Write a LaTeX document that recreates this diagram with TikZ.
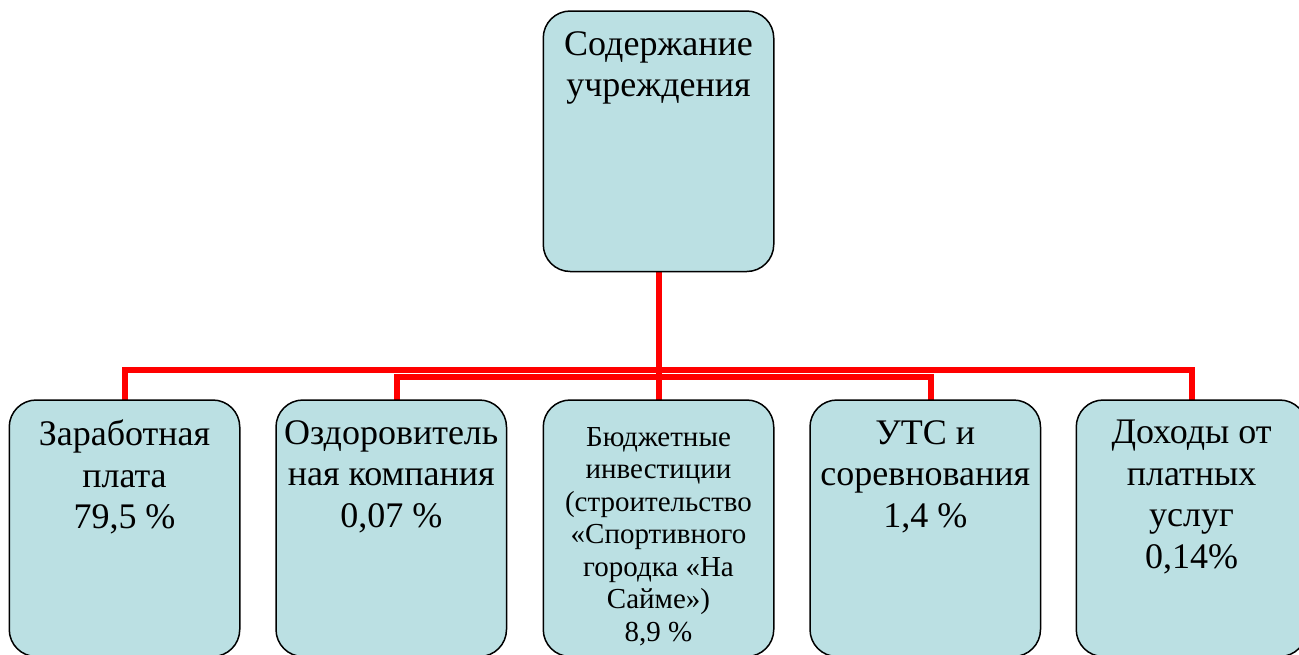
\documentclass[tikz,border=0pt]{standalone}
\usepackage{fontspec}
\setmainfont{Liberation Serif}
\definecolor{boxfill}{HTML}{BBE0E3}
\definecolor{linkred}{HTML}{FF0000}
\begin{document}
\begin{tikzpicture}[x=1pt,y=-1pt,
  box/.style={draw=black, line width=1.5pt, fill=boxfill, rounded corners=27pt,
    minimum width=229pt, minimum height=255pt, inner sep=0pt, anchor=north},
  topbox/.style={box, minimum height=259pt},
  txt/.style={anchor=north, inner sep=0pt, align=center, font=\fontsize{36pt}{41.5pt}\selectfont},
  smalltxt/.style={txt, font=\fontsize{29pt}{32.5pt}\selectfont},
  link/.style={draw=linkred, line width=6pt}]
\useasboundingbox (0,0) rectangle (1299,654);
\clip (0,0) rectangle (1299,654);
% box frames (positions)
\node[topbox, draw=none, fill=none] (root) at (658.5,11) {};
\node[box, draw=none, fill=none] (b1) at (124.5,400) {};
\node[box, draw=none, fill=none] (b2) at (391.25,400) {};
\node[box, draw=none, fill=none] (b3) at (658.5,400) {};
\node[box, draw=none, fill=none] (b4) at (925.25,400) {};
\node[box, draw=none, fill=none] (b5) at (1191.5,400) {};
% connectors
\draw[link] (root.south) -- (b3.north);
\draw[link] (b1.north) -- ++(0,-30.5) -| (b5.north);
\draw[link] ([xshift=6pt]b2.north) -- ++(0,-23.5) -| ([xshift=6pt]b4.north);
% visible boxes
\path[box] (root.north west) rectangle (root.south east);
\foreach \b in {b1,b2,b3,b4,b5}{
  \path[box] (\b.north west) rectangle (\b.south east);
}
% texts
\node[txt] (troot) at ([yshift=-20pt]root.north) {Содержание\\учреждения};
\node[txt] (t1) at ([yshift=-20pt]b1.north) {Заработная\\плата\\79,5 \%};
\node[txt] (t2) at ([yshift=-20pt]b2.north) {Оздоровитель\\ная компания\\0,07 \%};
\node[smalltxt] (t3) at ([yshift=-27pt]b3.north) {Бюджетные\\инвестиции\\(строительство\\«Спортивного\\городка «На\\Сайме»)\\8,9 \%};
\node[txt] (t4) at ([yshift=-20pt]b4.north) {УТС и\\соревнования\\1,4 \%};
\node[txt] (t5) at ([yshift=-20pt]b5.north) {Доходы от\\платных\\услуг\\0,14\%};
\end{tikzpicture}
\end{document}
